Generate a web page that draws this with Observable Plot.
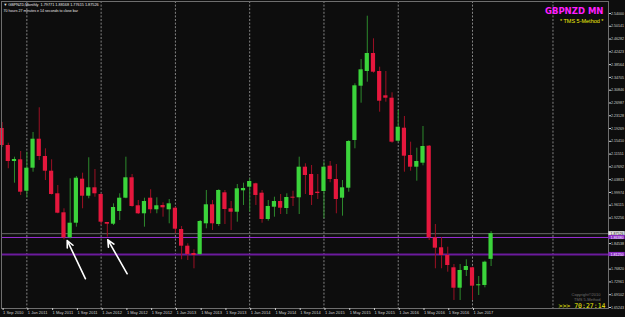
<!DOCTYPE html>
<html><head><meta charset="utf-8">
<script src="https://cdn.jsdelivr.net/npm/d3@7"></script>
<script src="https://cdn.jsdelivr.net/npm/@observablehq/plot@0.6"></script>
<style>
html,body{margin:0;padding:0;background:#0d0d0d;}
#chart svg{display:block}
</style></head><body><div id="chart"></div>
<script>
// GBPNZD monthly candles, first bar = Sep 2010, last bar = Apr 2017
const opens  = [2.1928,2.1415,2.0932,2.0983,2.0035,2.0730,2.1605,2.1083,2.0639,1.9957,1.9383,1.8629,1.9069,2.0398,1.9884,2.0138,1.9936,1.9091,1.9039,1.9423,1.9824,2.0440,1.9595,1.9353,1.9824,1.9474,1.9604,1.9474,1.9522,1.8879,1.8375,1.8155,1.8125,1.9051,1.9625,1.9030,1.9987,1.9504,1.9401,2.0047,2.0156,2.0259,1.9975,1.9181,1.9552,1.9724,1.9513,1.9854,1.9836,2.0760,2.0540,2.0005,2.0026,2.0790,2.0389,1.9824,2.0126,2.1566,2.3205,2.3649,2.4192,2.3649,2.2915,2.2843,2.1545,2.1937,2.1113,2.0760,2.0881,2.1394,1.8629,1.8327,1.8094,1.7723,1.7107,1.7642,1.7723,1.7180,1.7189,1.79771];
const highs  = [2.2109,2.1484,2.1062,2.1234,2.1213,2.1807,2.2553,2.1315,2.0983,2.0207,1.9504,2.0410,2.0479,2.0579,2.1044,2.0690,1.9957,1.9091,1.9655,1.9957,2.1062,2.0540,1.9755,1.9824,2.0078,1.9836,1.9685,1.9785,1.9552,1.8970,1.8448,1.8266,1.9151,2.0057,1.9755,2.0078,2.0057,1.9724,2.0238,2.0277,2.0410,2.0277,2.0057,1.9755,1.9854,1.9936,1.9957,2.0035,2.1062,2.0863,2.0811,2.0540,2.0911,2.0932,2.0841,2.0358,2.1560,2.3277,2.4011,2.5318,2.4636,2.3779,2.3649,2.3006,2.2471,2.2290,2.1515,2.1333,2.1988,2.1415,1.9030,1.8629,1.8345,1.7823,1.7823,1.7965,1.7741,1.7460,1.7922,1.88168];
const lows   = [2.1355,2.0712,2.0277,1.9906,1.9836,2.0609,2.0962,2.0358,1.9920,1.9353,1.8568,1.8598,1.8949,1.9504,1.9806,1.9854,1.9000,1.8647,1.9000,1.9151,1.9806,1.9552,1.9332,1.8949,1.9353,1.9353,1.9251,1.9051,1.8749,1.7965,1.7943,1.7693,1.8094,1.8900,1.8849,1.8970,1.9030,1.8849,1.9100,1.9604,1.9401,1.9604,1.9069,1.9130,1.9251,1.9332,1.9332,1.9574,1.9332,1.9936,1.9604,1.9785,1.9202,2.0289,1.9353,1.9281,2.0005,2.1315,2.2692,2.3326,2.3597,2.2420,2.2722,2.1484,2.1515,2.0609,2.0639,2.0337,2.0802,1.8547,1.7693,1.7693,1.7590,1.6736,1.6736,1.7460,1.6736,1.6887,1.7119,1.77615];
const closes = [2.1415,2.0932,2.0992,2.0005,2.0730,2.1605,2.1083,2.0639,1.9936,1.9371,1.8629,1.9069,2.0428,1.9884,2.0138,1.9957,1.9100,1.9039,1.9543,1.9824,2.0440,1.9574,1.9353,1.9724,1.9474,1.9595,1.9534,1.9655,1.8888,1.8375,1.8125,1.8094,1.9121,1.9625,1.9051,2.0057,1.9483,1.9401,2.0108,2.0117,2.0328,1.9906,1.9181,1.9574,1.9724,1.9522,1.9845,1.9824,2.0760,2.0509,1.9906,1.9966,2.0760,2.0389,1.9785,2.0138,2.1536,2.3217,2.3700,2.4192,2.3628,2.2752,2.2843,2.1515,2.1967,2.1092,2.0760,2.0932,2.1385,1.8629,1.8315,1.8094,1.7792,1.7107,1.7642,1.7762,1.7168,1.7210,1.7892,1.87526];

const dateTickIdx    = [0,4,8,12,16,20,24,28,32,36,40,44,48,52,56,60,64,68,72,76];
const dateTickLabels = ["1 Sep 2010","1 Jan 2011","1 May 2011","1 Sep 2011","1 Jan 2012","1 May 2012","1 Sep 2012","1 Jan 2013","1 May 2013","1 Sep 2013","1 Jan 2014","1 May 2014","1 Sep 2014","1 Jan 2015","1 May 2015","1 Sep 2015","1 Jan 2016","1 May 2016","1 Sep 2016","1 Jan 2017"];
const priceTicks = [2.54000,2.50141,2.46282,2.42423,2.38564,2.34705,2.30846,2.26987,2.23128,2.19269,2.15410,2.11551,2.07692,2.03833,1.99974,1.96115,1.92256,1.88397,1.84538,1.80679,1.76820,1.72961,1.69102,1.65243];
const gridIdx = [4,16,28,40,52,64,76,89];

const bidPrice = 1.87526;
const purpleLevels = [1.86380, 1.81250];
const purpleWidths = [1, 2];

// annotation arrows (tail -> tip), in bar index / price
const arrowX1 = [13.47, 20.21];
const arrowY1 = [1.7391, 1.7542];
const arrowX2 = [10.52, 17.08];
const arrowY2 = [1.8547, 1.8568];

const headerLine1 = "\u25BC GBPNZD,Monthly  1.79771 1.88168 1.77615 1.87526";
const headerLine2 = "70 hours 27 minutes e 14 seconds to close bar";
const symbolTitle = "GBPNZD MN";
const methodTitle = "* TMS 5-Method *";
const copyrightLine1 = "Copyright\u00A92010";
const copyrightLine2 = "TMS 5-Method";
const timerText = ">>> 70:27:14";

const xDomain = [-0.097, 97.97];
const yDomain = [1.6494, 2.5762];

const bars = opens.map((o, i) => ({i, o, h: highs[i], l: lows[i], c: closes[i], up: closes[i] >= o}));
const arrows = arrowX1.map((x, k) => ({x1: x, y1: arrowY1[k], x2: arrowX2[k], y2: arrowY2[k]}));
const purple = purpleLevels.map((p, k) => ({p, w: purpleWidths[k]}));
const markedLevels = [bidPrice, ...purpleLevels];
const shownTicks = priceTicks.filter(t => markedLevels.every(m => Math.abs(t - m) > 0.011));
const xR = xDomain[1];
const boxW = 2.7;
const boxH = 0.0062;
const axisFont = "Liberation Sans, Arial, sans-serif";

const chart = Plot.plot({
  width: 625, height: 317,
  marginLeft: 1, marginRight: 17, marginTop: 1, marginBottom: 9,
  style: {background: "#0d0d0d", color: "#cfcfcf", fontFamily: axisFont},
  x: {type: "linear", domain: xDomain, label: null},
  y: {domain: yDomain, label: null},
  color: {type: "identity"},
  marks: [
    Plot.ruleX(gridIdx, {x: d => d, stroke: "#bdbdbd", strokeWidth: 0.8, strokeDasharray: "2,1.6", strokeOpacity: 0.85}),
    Plot.ruleY([bidPrice], {y: d => d, stroke: "#6a6a6a", strokeWidth: 1}),
    Plot.ruleY(purple, {y: "p", stroke: (d) => d.w > 1 ? "#6b1a9c" : "#9a2fd6", strokeWidth: "w"}),
    Plot.ruleX(bars, {x: "i", y1: "l", y2: "h", stroke: d => d.up ? "#2d8a2d" : "#9c1024", strokeWidth: 1}),
    Plot.rect(bars, {x1: d => d.i - 0.34, x2: d => d.i + 0.34,
      y1: d => Math.min(d.o, d.c), y2: d => Math.max(d.o, d.c),
      fill: d => d.up ? "#3bd43b" : "#e5173d"}),
    Plot.arrow(arrows, {x1: "x1", y1: "y1", x2: "x2", y2: "y2", stroke: "#ffffff", strokeWidth: 1.6, headLength: 7, headAngle: 50}),
    Plot.frame({stroke: "#6e6e6e", strokeWidth: 1}),
    Plot.axisY({anchor: "right", ticks: shownTicks, tickFormat: d => d.toFixed(5), tickSize: 2, tickPadding: 0.5, fontSize: 3.6, color: "#cfcfcf"}),
    Plot.axisX({anchor: "bottom", ticks: dateTickIdx, tickFormat: i => dateTickLabels[dateTickIdx.indexOf(i)], textAnchor: "start", dx: 1, tickSize: 2, tickPadding: 0.5, fontSize: 4, color: "#cfcfcf"}),
    // price labels on the axis
    Plot.rect([bidPrice], {x1: xR + 0.05, x2: xR + boxW, y1: d => d - boxH, y2: d => d + boxH, fill: "#e6e6e6"}),
    Plot.text([bidPrice], {x: xR, y: d => d, text: d => d.toFixed(5), textAnchor: "start", dx: 2, fontSize: 3.6, fill: "#111"}),
    Plot.rect(purple, {x1: xR + 0.05, x2: xR + boxW, y1: d => d.p - boxH, y2: d => d.p + boxH, fill: "#8a2bc4"}),
    Plot.text(purple, {x: xR, y: "p", text: d => d.p.toFixed(5), textAnchor: "start", dx: 2, fontSize: 3.6, fill: "#ffffff"}),
    // header texts
    Plot.text([headerLine1], {frameAnchor: "top-left", text: d => d, dx: 2, dy: 1.8, lineAnchor: "top", textAnchor: "start", fontSize: 3.8, fill: "#e8e8e8"}),
    Plot.text([headerLine2], {frameAnchor: "top-left", text: d => d, dx: 2, dy: 7.8, lineAnchor: "top", textAnchor: "start", fontSize: 3.6, fill: "#e8e8e8"}),
    Plot.text([symbolTitle], {frameAnchor: "top-right", text: d => d, dx: -5, dy: 6, lineAnchor: "top", textAnchor: "end", fontSize: 8.5, fontWeight: "bold", fill: "#ff1fff", fontFamily: "DejaVu Sans, sans-serif"}),
    Plot.text([methodTitle], {frameAnchor: "top-right", text: d => d, dx: -5, dy: 17.5, lineAnchor: "top", textAnchor: "end", fontSize: 5.5, fill: "#f2f20a"}),
    Plot.text([copyrightLine1], {frameAnchor: "bottom-right", text: d => d, dx: -8, dy: -12.5, lineAnchor: "bottom", textAnchor: "end", fontSize: 4, fill: "#6f6f6f"}),
    Plot.text([copyrightLine2], {frameAnchor: "bottom-right", text: d => d, dx: -8, dy: -8, lineAnchor: "bottom", textAnchor: "end", fontSize: 4, fill: "#6f6f6f"}),
    Plot.text([timerText], {frameAnchor: "bottom-right", text: d => d, dx: -3, dy: -0.5, lineAnchor: "bottom", textAnchor: "end", fontSize: 6.5, fill: "#f2f20a", fontFamily: "DejaVu Sans Mono, monospace"})
  ]
});
document.getElementById("chart").appendChild(chart);
</script>
</body></html>
